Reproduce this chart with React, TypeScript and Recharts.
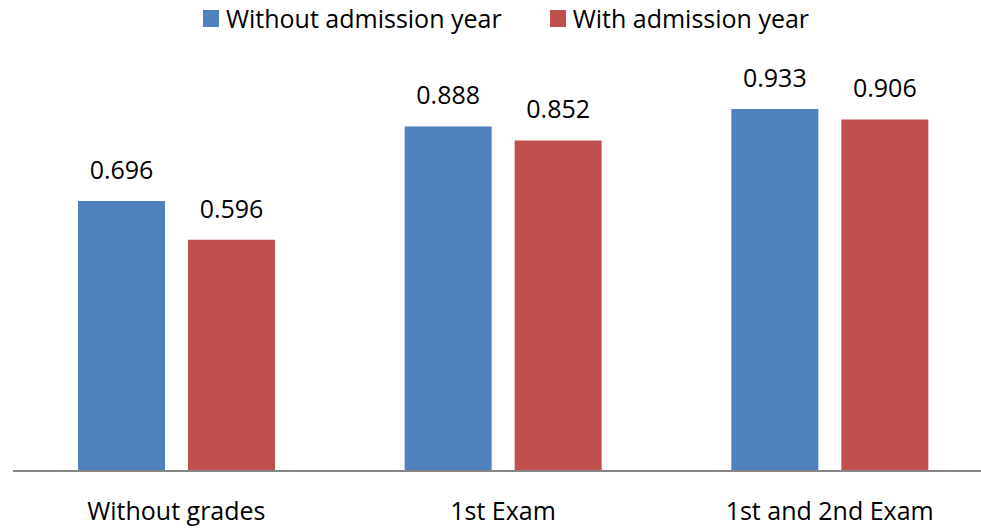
import React from "react";
import { BarChart, Bar, XAxis, YAxis, LabelList } from "recharts";

const categories = ["Without grades", "1st Exam", "1st and 2nd Exam"];
const withoutYear = [0.696, 0.888, 0.933];
const withYear = [0.596, 0.852, 0.906];

const seriesNames = ["Without admission year", "With admission year"];
const colors = ["#4F81BD", "#C0504D"];

const data = categories.map((name, i) => ({
  name,
  without: withoutYear[i],
  with: withYear[i],
}));

const font = "'Open Sans', sans-serif";

export default function App() {
  return (
    <div style={{ position: "absolute", left: 0, top: 0, width: 981, height: 529, overflow: "hidden", background: "#fff", fontFamily: font }}>
      {/* Legend */}
      <div style={{ position: "absolute", top: 1, left: 0, width: 981, display: "flex", justifyContent: "center", gap: 48, paddingLeft: 31, boxSizing: "border-box" }}>
        {seriesNames.map((s, i) => (
          <div key={s} style={{ display: "flex", alignItems: "center", gap: 7, fontSize: 25, color: "#000" }}>
            <span style={{ width: 16, height: 17, background: colors[i], display: "inline-block" }} />
            <span>{s}</span>
          </div>
        ))}
      </div>
      <BarChart
        width={993}
        height={529}
        data={data}
        margin={{ top: 83, right: 0, left: 13, bottom: 28 }}
        barSize={87}
        barGap={23}
        style={{ position: "absolute", left: 0, top: 0 }}
      >
        <XAxis
          dataKey="name"
          height={30}
          tickLine={false}
          axisLine={{ stroke: "#868686", strokeWidth: 2 }}
          tick={{ fill: "#000", fontSize: 25, fontFamily: font, dy: 23 }}
          interval={0}
        />
        <YAxis hide domain={[0, 1]} />
        <Bar dataKey="without" fill={colors[0]} isAnimationActive={false}>
          <LabelList dataKey="without" position="top" offset={22} fill="#000" fontSize={25} fontFamily={font} />
        </Bar>
        <Bar dataKey="with" fill={colors[1]} isAnimationActive={false}>
          <LabelList dataKey="with" position="top" offset={22} fill="#000" fontSize={25} fontFamily={font} />
        </Bar>
      </BarChart>
    </div>
  );
}
